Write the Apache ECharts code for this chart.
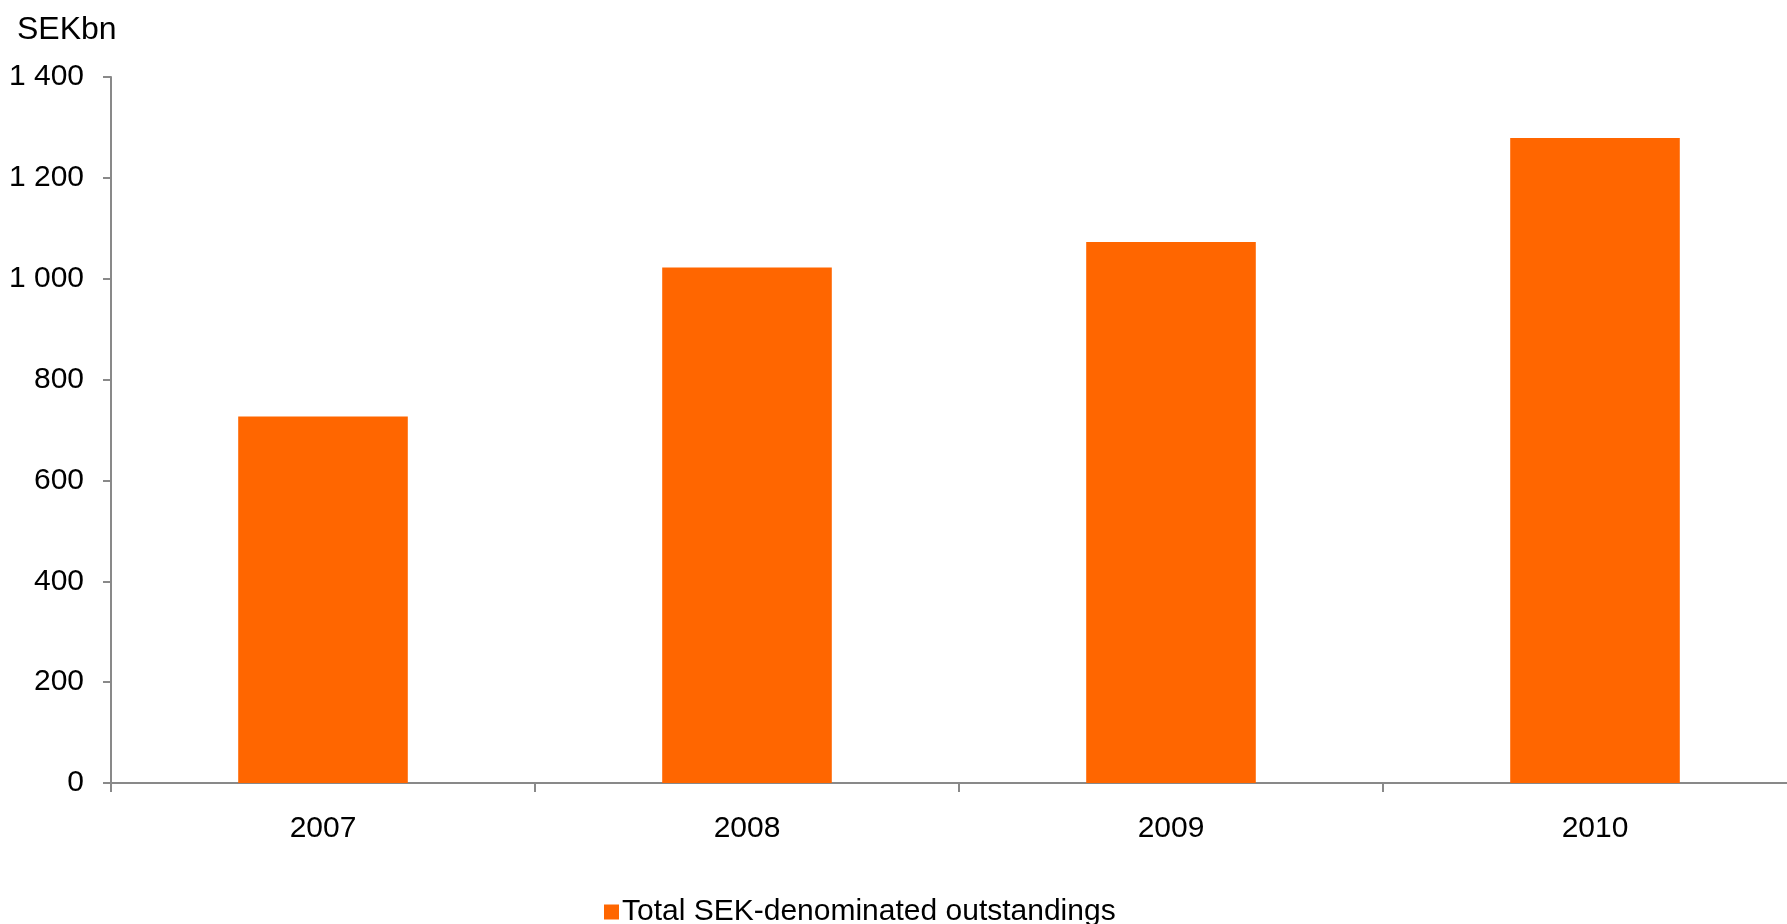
<!DOCTYPE html>
<html>
<head>
<meta charset="utf-8">
<style>
  html, body { margin: 0; padding: 0; background: #ffffff; overflow: hidden; }
  /* plot area runs a little past the right edge of the window */
  #chart { width: 1807px; height: 924px; }
</style>
<script src="https://cdn.jsdelivr.net/npm/echarts@6/dist/echarts.min.js"></script>
</head>
<body>
<div id="chart"></div>
<script>
// Annual totals, SEK billions
const years = ['2007', '2008', '2009', '2010'];
const outstandings = [727, 1022, 1073, 1279];
const seriesName = 'Total SEK-denominated outstandings';
const unitLabel = 'SEKbn';

const FONT = '"Liberation Sans", Arial, sans-serif';
const AXIS_GREY = '#898989';

// Thousands grouped with a space: 1400 -> "1 400"
function groupThousands(v) {
  return String(v).replace(/\B(?=(\d{3})+(?!\d))/g, ' ');
}

const chart = echarts.init(document.getElementById('chart'), null, { renderer: 'canvas' });

chart.setOption({
  backgroundColor: '#ffffff',
  animation: false,
  graphic: [{
    type: 'text',
    left: 17,
    top: 14,
    style: { text: unitLabel, font: '32px ' + FONT, fill: '#000000' }
  }],
  legend: {
    data: [seriesName],
    left: 599,
    top: 892,
    itemWidth: 15,
    itemHeight: 15,
    itemGap: 10,
    icon: 'rect',
    textStyle: { fontFamily: FONT, fontSize: 30, color: '#000000', padding: [0, 0, 0, -2] }
  },
  grid: { left: 111, right: 0, top: 77, bottom: 141, containLabel: false },
  xAxis: {
    type: 'category',
    data: years,
    boundaryGap: true,
    axisLine: { show: true, lineStyle: { color: AXIS_GREY, width: 2 } },
    axisTick: { show: true, alignWithLabel: false, length: 9, lineStyle: { color: AXIS_GREY, width: 2 } },
    axisLabel: { fontFamily: FONT, fontSize: 30, color: '#000000', margin: 31 },
    splitLine: { show: false }
  },
  yAxis: {
    type: 'value',
    min: 0,
    max: 1400,
    interval: 200,
    axisLine: { show: true, lineStyle: { color: AXIS_GREY, width: 2 } },
    axisTick: { show: true, length: 8, lineStyle: { color: AXIS_GREY, width: 2 } },
    axisLabel: { fontFamily: FONT, fontSize: 30, color: '#000000', margin: 27, formatter: groupThousands },
    splitLine: { show: false }
  },
  series: [{
    name: seriesName,
    type: 'bar',
    data: outstandings,
    barWidth: '40%',
    itemStyle: { color: '#FF6600' }
  }]
});
</script>
</body>
</html>
